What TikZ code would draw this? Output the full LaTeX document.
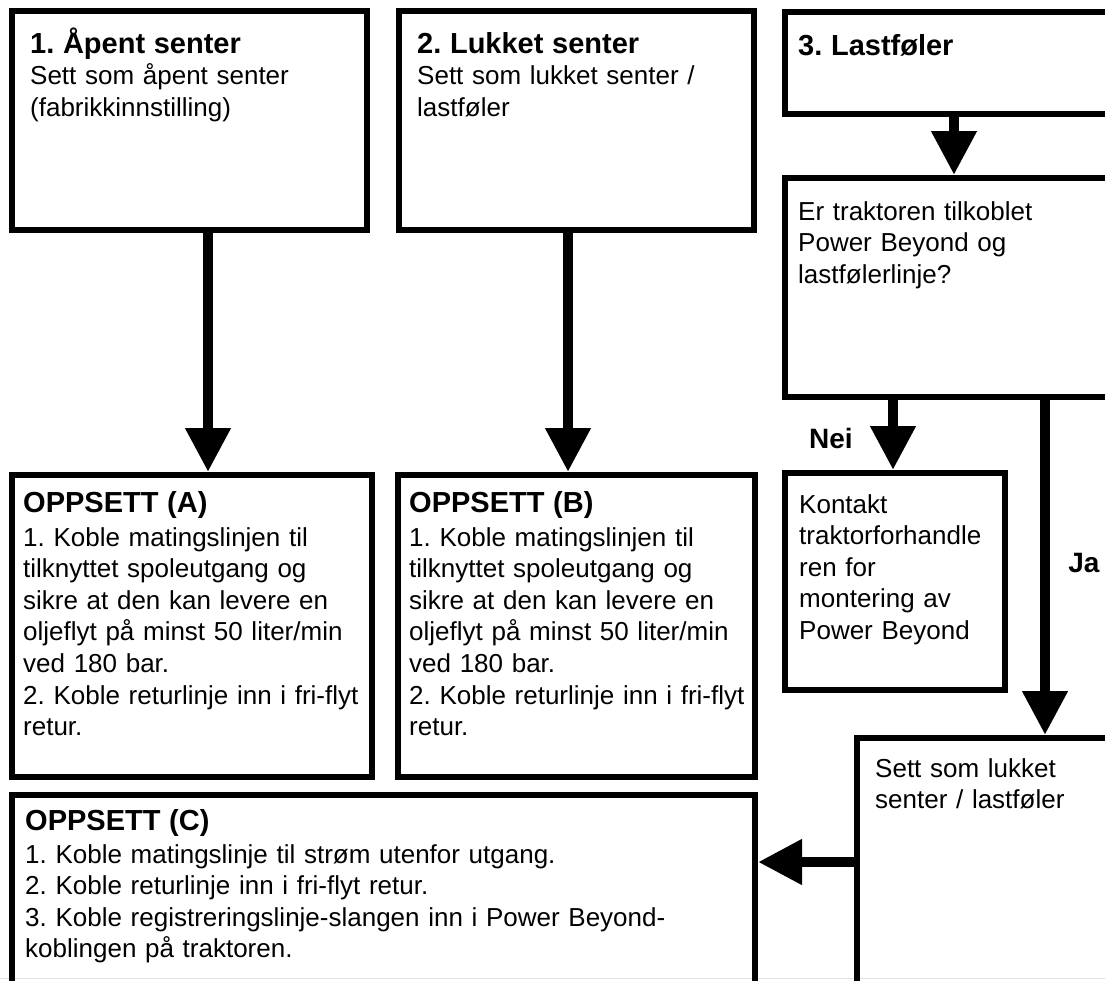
\documentclass[tikz,border=0pt]{standalone}
\usepackage{fontspec}
\setmainfont{Liberation Sans}[Ligatures=CommonOff]
\usetikzlibrary{arrows.meta}
\frenchspacing
\newcommand{\boxtitle}[1]{{\fontsize{29}{31.6}\selectfont\bfseries #1}}
\tikzset{
  box/.style={draw, line width=6pt, anchor=north west, inner sep=0pt},
  txt/.style={anchor=base west, align=left, text width=720pt, inner sep=0pt,
    font=\fontsize{26}{31.6}\selectfont},
  arr/.style={line width=10.5pt, -{Triangle[width=43pt,length=44pt]}},
  lbl/.style={inner sep=0pt, font=\fontsize{28}{30}\selectfont\bfseries}
}
\begin{document}
\begin{tikzpicture}[x=1pt, y=-1pt]
	\useasboundingbox (0,0) rectangle (1105,980);
	\clip (0,0) rectangle (1105,980);
	\draw[black!12, line width=1.5pt] (0,978.5) -- (1105,978.5);

	\node[box, minimum width=355pt, minimum height=219pt] (open) at (9,8) {};
	\node[box, minimum width=355pt, minimum height=219pt] (closed) at (396,8) {};
	\node[box, minimum width=332pt, minimum height=102pt] (load) at (782,9) {};
	\node[box, minimum width=332pt, minimum height=219pt] (ask) at (782,175) {};
	\node[box, minimum width=220pt, minimum height=217pt] (dealer) at (782,470) {};
	\node[box, minimum width=360pt, minimum height=302pt] (A) at (9,472) {};
	\node[box, minimum width=357pt, minimum height=302pt] (B) at (395,472) {};
	\node[box, minimum width=260pt, minimum height=259pt] (set) at (854,735) {};
	\node[box, minimum width=743pt, minimum height=202pt] (C) at (9,792) {};

	\node[txt] (openT) at (30,53) {\boxtitle{1. Åpent senter}\\ Sett som åpent senter\\ (fabrikkinnstilling)};
	\node[txt] (closedT) at (417,53) {\boxtitle{2. Lukket senter}\\ Sett som lukket senter /\\ lastføler};
	\node[txt] (loadT) at (798,55) {\boxtitle{3. Lastføler}};
	\node[txt] (askT) at (798,220) {Er traktoren tilkoblet\\ Power Beyond og\\ lastfølerlinje?};
	\node[txt] (dealerT) at (799,513) {Kontakt\\ traktorforhandle\\ ren for\\ montering av\\ Power Beyond};
	\node[txt] (setT) at (875,777) {Sett som lukket\\ senter / lastføler};
	\node[txt] (AT) at (23,512) {\boxtitle{OPPSETT (A)}\\[2.5pt] 1. Koble matingslinjen til\\ tilknyttet spoleutgang og\\ sikre at den kan levere en\\ oljeflyt på minst 50 liter/min\\ ved 180 bar.\\ 2. Koble returlinje inn i fri-flyt\\ retur.};
	\node[txt] (BT) at (409,512) {\boxtitle{OPPSETT (B)}\\[2.5pt] 1. Koble matingslinjen til\\ tilknyttet spoleutgang og\\ sikre at den kan levere en\\ oljeflyt på minst 50 liter/min\\ ved 180 bar.\\ 2. Koble returlinje inn i fri-flyt\\ retur.};
	\node[txt] (CT) at (25,830) {\boxtitle{OPPSETT (C)}\\[1.5pt] 1. Koble matingslinje til strøm utenfor utgang.\\ 2. Koble returlinje inn i fri-flyt retur.\\ 3. Koble registreringslinje-slangen inn i Power Beyond-\\ koblingen på traktoren.};

	\coordinate (xA) at (208,0);
	\coordinate (xB) at (568,0);
	\coordinate (xQ) at (954,0);
	\coordinate (xN) at (893,0);
	\coordinate (xJ) at (1045,0);
	\coordinate (yC) at (0,862);

	\draw[arr] (open.south -| xA) -- (A.north -| xA);
	\draw[arr] (closed.south -| xB) -- (B.north -| xB);
	\draw[arr] (load.south -| xQ) -- (ask.north -| xQ);
	\draw[arr] (ask.south -| xN) -- node[lbl, pos=0.686, anchor=base east, xshift=-35pt] {Nei} (dealer.north -| xN);
	\draw[arr] (ask.south -| xJ) -- node[lbl, pos=0.516, anchor=base west, xshift=18pt] {Ja} (set.north -| xJ);
	\draw[arr] (set.west |- yC) -- (C.east |- yC);
\end{tikzpicture}
\end{document}
